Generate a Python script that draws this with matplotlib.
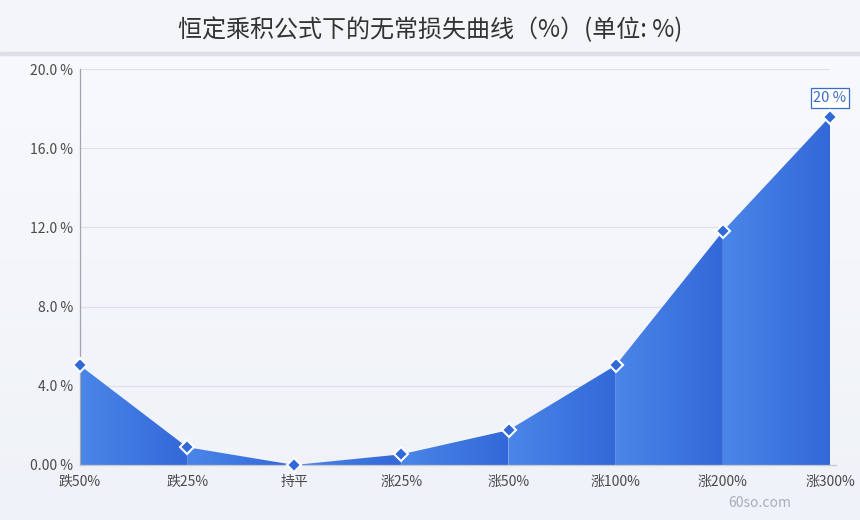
import numpy as np
import matplotlib
matplotlib.use("Agg")
import matplotlib.pyplot as plt
from matplotlib.colors import LinearSegmentedColormap
from matplotlib.patches import Polygon, Rectangle

plt.rcParams['font.family'] = ['Noto Sans CJK SC', 'DejaVu Sans']

# data
categories = ["跌50%", "跌25%", "持平", "涨25%", "涨50%", "涨100%", "涨200%", "涨300%"]
loss = [5.03, 0.90, 0.0, 0.54, 1.76, 5.03, 11.8, 17.6]
y_ticks = [0, 4, 8, 12, 16, 20]
y_tick_labels = ["0.00 %", "4.0 %", "8.0 %", "12.0 %", "16.0 %", "20.0 %"]
last_label = "20 %"
title = "恒定乘积公式下的无常损失曲线（%）(单位: %)"

fig = plt.figure(figsize=(8.6, 5.2), dpi=100)

# background
bg = fig.add_axes([0, 0, 1, 1], zorder=-10)
bg_cmap = LinearSegmentedColormap.from_list("bg", ["#f9fafd", "#eff2f8"])
bg.imshow(np.linspace(0, 1, 256).reshape(-1, 1), cmap=bg_cmap, aspect="auto",
          extent=[0, 1, 0, 1], origin="upper")
bg.add_patch(Rectangle((0, 1 - 52 / 520), 1, 52 / 520, color="#f3f5f9", zorder=2))
bg.add_patch(Rectangle((0, 1 - 55 / 520), 1, 3 / 520, color="#dcdfe7", zorder=3))
bg.set_xlim(0, 1)
bg.set_ylim(0, 1)
bg.axis("off")
fig.text(0.5, 1 - 30 / 520, title, ha="center", va="center", fontsize=17.3, color="#333333")

ax = fig.add_axes([80 / 860, 55 / 520, 750 / 860, 396 / 520])
ax.patch.set_alpha(0)
x = np.arange(len(categories))

fill_cmap = LinearSegmentedColormap.from_list("fill", ["#4a86e8", "#3368d8"])
grad = np.linspace(0, 1, 128).reshape(1, -1)
for i in range(len(x) - 1):
    poly = Polygon([(x[i], 0), (x[i], loss[i]), (x[i + 1], loss[i + 1]), (x[i + 1], 0)],
                   closed=True, facecolor="none", edgecolor="none")
    ax.add_patch(poly)
    im = ax.imshow(grad, cmap=fill_cmap, aspect="auto", zorder=2,
                   extent=[x[i], x[i + 1], 0, max(loss[i], loss[i + 1]) + 0.1])
    im.set_clip_path(poly)

ax.plot(x, loss, linestyle="none", marker="D", markersize=7, markerfacecolor="#3368d8",
        markeredgecolor="white", markeredgewidth=1.5, zorder=4, clip_on=False)

ax.annotate(last_label, (x[-1], loss[-1]), xytext=(0, 8), textcoords="offset points",
            ha="center", va="bottom", fontsize=10.5, color="#3a6bc9",
            bbox=dict(boxstyle="square,pad=0.2", facecolor="white", edgecolor="#3a6bc9", lw=0.9))

ax.set_xlim(0, len(x) - 1)
ax.set_ylim(0, 20)
ax.set_xticks(x)
ax.set_xticklabels(categories)
ax.set_yticks(y_ticks)
ax.set_yticklabels(y_tick_labels)
ax.tick_params(length=0, labelsize=10, labelcolor="#4a4a4a")
ax.tick_params(axis="x", pad=7)
ax.tick_params(axis="y", pad=5)
ax.grid(axis="y", color="#dde0e6", linewidth=0.9, zorder=0)
ax.set_axisbelow(True)
for s in ["top", "right"]:
    ax.spines[s].set_visible(False)
ax.spines["left"].set_color("#a0a4ad")
ax.spines["left"].set_linewidth(0.9)
ax.spines["bottom"].set_color("#c5c9d2")
ax.spines["bottom"].set_linewidth(0.9)
ax.spines["bottom"].set_bounds(0, 7.06)

fig.text(760 / 860, 1 - 503 / 520, "60so.com", ha="center", va="center",
         fontsize=10, color="#a9aebb")

fig.savefig("out.png", dpi=100)
